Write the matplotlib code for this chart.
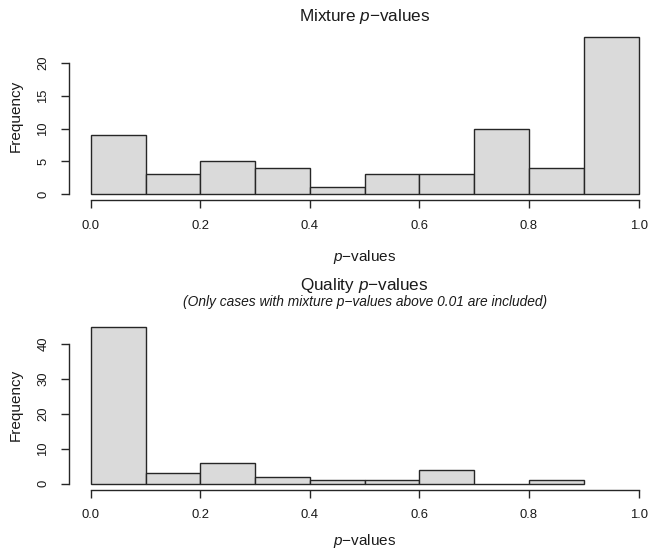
import matplotlib
matplotlib.use("Agg")
import matplotlib.pyplot as plt
import numpy as np

# ---- data ----
mix_edges = [0.0, 0.1, 0.2, 0.3, 0.4, 0.5, 0.6, 0.7, 0.8, 0.9, 1.0]
mix_counts = [9, 3, 5, 4, 1, 3, 3, 10, 4, 24]
qual_edges = [0.0, 0.1, 0.2, 0.3, 0.4, 0.5, 0.6, 0.7, 0.8, 0.9]
qual_counts = [45, 3, 6, 2, 1, 1, 4, 0, 1]
x_ticks = [0.0, 0.2, 0.4, 0.6, 0.8, 1.0]
x_ticklabels = ["0.0", "0.2", "0.4", "0.6", "0.8", "1.0"]
mix_yticks = [0, 5, 10, 15, 20]
qual_yticks = [0, 10, 20, 30, 40]

plt.rcParams['font.family'] = ['Liberation Sans', 'DejaVu Sans']
plt.rcParams['mathtext.fontset'] = 'custom'
plt.rcParams['mathtext.rm'] = 'Liberation Sans'
plt.rcParams['mathtext.it'] = 'Liberation Sans:italic'

W, H = 651, 552
fig = plt.figure(figsize=(W / 100, H / 100), dpi=100)
fig.patch.set_facecolor('white')

TXT = '#1a1a1a'
EDGE = '#262626'
FILL = '#dadada'

def fx(px):
    return px / W

def fy(py):
    return 1 - py / H

left_px = 68.9
width_px = 591.6

def make_panel(bottom_px, top_px, edges, counts, yticks, ymax):
    ax = fig.add_axes([fx(left_px), fy(bottom_px), width_px / W, (bottom_px - top_px) / H])
    widths = np.diff(edges)
    ax.bar(edges[:-1], counts, width=widths, align='edge', color=FILL,
           edgecolor=EDGE, linewidth=1.0)
    ax.set_xlim(-0.04, 1.04)
    pad = 0.04 * ymax
    ax.set_ylim(-pad, ymax + pad)
    for s in ['top', 'right']:
        ax.spines[s].set_visible(False)
    for s in ['left', 'bottom']:
        ax.spines[s].set_color(EDGE)
        ax.spines[s].set_linewidth(1.0)
    ax.spines['left'].set_bounds(yticks[0], yticks[-1])
    ax.spines['bottom'].set_bounds(x_ticks[0], x_ticks[-1])
    ax.set_xticks(x_ticks)
    ax.set_xticklabels(x_ticklabels)
    ax.set_yticks(yticks)
    ax.set_yticklabels([str(t) for t in yticks], rotation=90, va='center')
    ax.tick_params(axis='both', direction='out', length=6, width=1.0,
                   color=EDGE, labelcolor=TXT, labelsize=9.4)
    ax.tick_params(axis='x', pad=8.0)
    ax.tick_params(axis='y', pad=8.0)
    ax.set_facecolor('none')
    return ax

ax1 = make_panel(200.3, 30.5, mix_edges, mix_counts, mix_yticks, 24)
ax2 = make_panel(490.0, 320.4, qual_edges, qual_counts, qual_yticks, 45)

cx = fx(left_px + width_px / 2)

fig.text(cx, fy(21), 'Mixture $p$\u2212values', ha='center', va='baseline',
         fontsize=12.3, color=TXT)
fig.text(cx, fy(261), '$p$\u2212values', ha='center', va='baseline',
         fontsize=11, color=TXT)
fig.text(fx(16), fy(115.4), 'Frequency', ha='center', va='center',
         rotation=90, fontsize=11, color=TXT)

fig.text(cx, fy(290), 'Quality $p$\u2212values', ha='center', va='baseline',
         fontsize=12.3, color=TXT)
fig.text(cx, fy(306), '(Only cases with mixture p\u2212values above 0.01 are included)',
         ha='center', va='baseline', fontsize=9.9, style='italic', color=TXT)
fig.text(cx, fy(545), '$p$\u2212values', ha='center', va='baseline',
         fontsize=11, color=TXT)
fig.text(fx(16), fy(405), 'Frequency', ha='center', va='center',
         rotation=90, fontsize=11, color=TXT)

fig.savefig('out.png', dpi=100, facecolor='white')
